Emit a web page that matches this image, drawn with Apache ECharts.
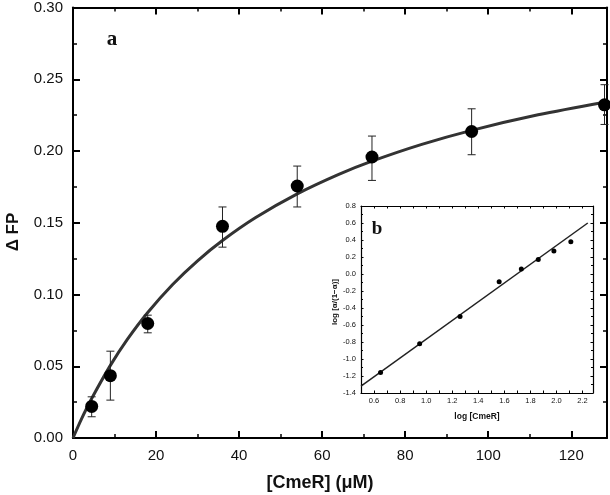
<!DOCTYPE html>
<html>
<head>
<meta charset="utf-8">
<script src="https://cdn.jsdelivr.net/npm/echarts@6/dist/echarts.min.js"></script>
<style>
  html, body { margin: 0; padding: 0; background: #fff; }
  #chart { width: 610px; height: 495px; }
</style>
</head>
<body>
<div id="chart"></div>
<script>
// panel a: binding data
var conc = [4.5, 9, 18, 36, 54, 72, 96, 128]
var dFP = [0.022, 0.0434, 0.0798, 0.1475, 0.1756, 0.1958, 0.2136, 0.2322]
var errLow = [0.0148, 0.0264, 0.0733, 0.133, 0.161, 0.1795, 0.1974, 0.2185]
var errHigh = [0.0287, 0.0605, 0.0856, 0.161, 0.1895, 0.2104, 0.2294, 0.2462]
// fitted curve
var fitX = [0, 2, 4.5, 9, 13, 18, 24, 30, 36, 44, 54, 64, 72, 84, 96, 112, 128]
var fitY = [0, 0.013, 0.0275, 0.0506, 0.0684, 0.0875, 0.107, 0.1235, 0.1376, 0.1536, 0.1701, 0.1837, 0.1929, 0.2046, 0.2144, 0.2252, 0.234]

// panel b: log plot (inset)
var logConc = [0.65, 0.95, 1.26, 1.56, 1.73, 1.86, 1.98, 2.11]
var logRatio = [-1.16, -0.82, -0.50, -0.09, 0.06, 0.17, 0.27, 0.38]
var lineX = [0.5, 2.24]
var lineY = [-1.32, 0.60]

var XMAX = 128.6
var BX0 = 0.5, BX1 = 2.28

function pairs(xs, ys) {
  return xs.map(function (x, i) { return [x, ys[i]] })
}

var chart = echarts.init(document.getElementById('chart'))

// axis helper, ticks pointing inward like the original plot
function axis(kind, grid, pos, o) {
  var a = {
    type: 'value',
    gridIndex: grid,
    position: pos,
    min: o.min,
    max: o.max,
    interval: o.interval,
    splitLine: { show: false },
    axisLine: { show: o.line !== false, onZero: false, lineStyle: { color: '#000', width: o.lw || 2 } },
    axisTick: { show: true, inside: true, length: o.tick || 7, lineStyle: { color: '#000', width: o.tw || 2 } },
    minorTick: { show: !!o.minor, splitNumber: 2, length: o.minorLen || 4, lineStyle: { color: '#000', width: o.mw || 1.5 } },
    axisLabel: { show: !!o.label, showMaxLabel: o.showMax !== false, margin: o.margin || 8,
                 fontFamily: 'Liberation Sans, Arial, sans-serif', fontSize: o.fs || 15, color: '#111',
                 formatter: o.fmt }
  }
  return a
}

var xAxes = [
  // main, bottom
  axis('x', 0, 'bottom', { min: 0, max: XMAX, interval: 20, label: true, showMax: false, margin: 10, fmt: function (v) { return v } }),
  axis('x', 0, 'bottom', { min: 0, max: XMAX, interval: 10, line: false, tick: 4, tw: 1.5 }),
  // main, top
  axis('x', 0, 'top', { min: 0, max: XMAX, interval: 20 }),
  axis('x', 0, 'top', { min: 0, max: XMAX, interval: 10, line: false, tick: 4, tw: 1.5 }),
  // inset
  axis('x', 1, 'bottom', { min: BX0, max: BX1, interval: 0.1, label: true, showMax: false, lw: 1.2, tick: 2.5, tw: 1, fs: 7.5, margin: 4,
    fmt: function (v) { var t = Math.round(v * 10); return t % 2 === 0 ? (t / 10).toFixed(1) : '' } }),
  axis('x', 1, 'top', { min: BX0, max: BX1, interval: 0.1, lw: 1.2, tick: 2.5, tw: 1 })
]

var yAxes = [
  axis('y', 0, 'left', { min: 0, max: 0.3, interval: 0.05, minor: true, label: true, margin: 10, fmt: function (v) { return v.toFixed(2) } }),
  axis('y', 0, 'right', { min: 0, max: 0.3, interval: 0.05, minor: true }),
  axis('y', 1, 'left', { min: -1.4, max: 0.8, interval: 0.2, minor: true, label: true, lw: 1.2, tick: 2.5, tw: 1, minorLen: 2, mw: 1, fs: 7.5, margin: 5,
    fmt: function (v) { return v.toFixed(1) } }),
  axis('y', 1, 'right', { min: -1.4, max: 0.8, interval: 0.2, minor: true, lw: 1.2, tick: 2.5, tw: 1, minorLen: 2, mw: 1 })
]

// error bars with small caps
function renderErr(params, api) {
  var x = api.value(0)
  var lo = api.coord([x, api.value(1)])
  var hi = api.coord([x, api.value(2)])
  var w = 4
  var st = { stroke: '#222', lineWidth: 1 }
  return {
    type: 'group',
    children: [
      { type: 'line', shape: { x1: lo[0], y1: lo[1], x2: hi[0], y2: hi[1] }, style: st },
      { type: 'line', shape: { x1: lo[0] - w, y1: lo[1], x2: lo[0] + w, y2: lo[1] }, style: st },
      { type: 'line', shape: { x1: hi[0] - w, y1: hi[1], x2: hi[0] + w, y2: hi[1] }, style: st }
    ]
  }
}

var errData = conc.map(function (x, i) { return [x, errLow[i], errHigh[i]] })

chart.setOption({
  animation: false,
  backgroundColor: '#fff',
  grid: [
    { left: 73, top: 7, right: 3, bottom: 57 },
    { left: 361, top: 206, width: 232, height: 187, show: true, backgroundColor: '#fff', borderWidth: 0 }
  ],
  xAxis: xAxes,
  yAxis: yAxes,
  graphic: [
    { type: 'text', x: 112, y: 40, style: { text: 'a', font: 'bold 21px "Liberation Serif", "Times New Roman", serif', fill: '#111', align: 'center', verticalAlign: 'middle' } },
    { type: 'text', x: 377, y: 229, style: { text: 'b', font: 'bold 19px "Liberation Serif", "Times New Roman", serif', fill: '#111', align: 'center', verticalAlign: 'middle' } },
    { type: 'text', x: 320, y: 483, style: { text: '[CmeR] (\u03bcM)', font: 'bold 18px "Liberation Sans", Arial, sans-serif', fill: '#111', align: 'center', verticalAlign: 'middle' } },
    { type: 'text', x: 13, y: 232, rotation: Math.PI / 2, style: { text: '\u0394 FP', font: 'bold 17px "Liberation Sans", Arial, sans-serif', fill: '#111', align: 'center', verticalAlign: 'middle' } },
    { type: 'text', x: 477, y: 417, style: { text: 'log [CmeR]', font: 'bold 8.5px "Liberation Sans", Arial, sans-serif', fill: '#111', align: 'center', verticalAlign: 'middle' } },
    { type: 'text', x: 335, y: 302, rotation: Math.PI / 2, style: { text: 'log [\u03b1/(1\u2212\u03b1)]', font: 'bold 8px "Liberation Sans", Arial, sans-serif', fill: '#111', align: 'center', verticalAlign: 'middle' } }
  ],
  series: [
    {
      type: 'line', xAxisIndex: 0, yAxisIndex: 0,
      data: pairs(fitX, fitY), smooth: 0.3, showSymbol: false,
      lineStyle: { color: '#333', width: 3 }, z: 2
    },
    {
      type: 'custom', xAxisIndex: 0, yAxisIndex: 0,
      data: errData, renderItem: renderErr,
      encode: { x: 0, y: [1, 2] }, z: 3
    },
    {
      type: 'scatter', xAxisIndex: 0, yAxisIndex: 0,
      data: pairs(conc, dFP), symbolSize: 13,
      itemStyle: { color: '#000', opacity: 1 }, z: 4
    },
    {
      type: 'line', xAxisIndex: 4, yAxisIndex: 2,
      data: pairs(lineX, lineY), showSymbol: false,
      lineStyle: { color: '#222', width: 1.5 }, z: 5
    },
    {
      type: 'scatter', xAxisIndex: 4, yAxisIndex: 2,
      data: pairs(logConc, logRatio), symbolSize: 5,
      itemStyle: { color: '#000', opacity: 1 }, z: 6
    }
  ]
})
</script>
</body>
</html>
